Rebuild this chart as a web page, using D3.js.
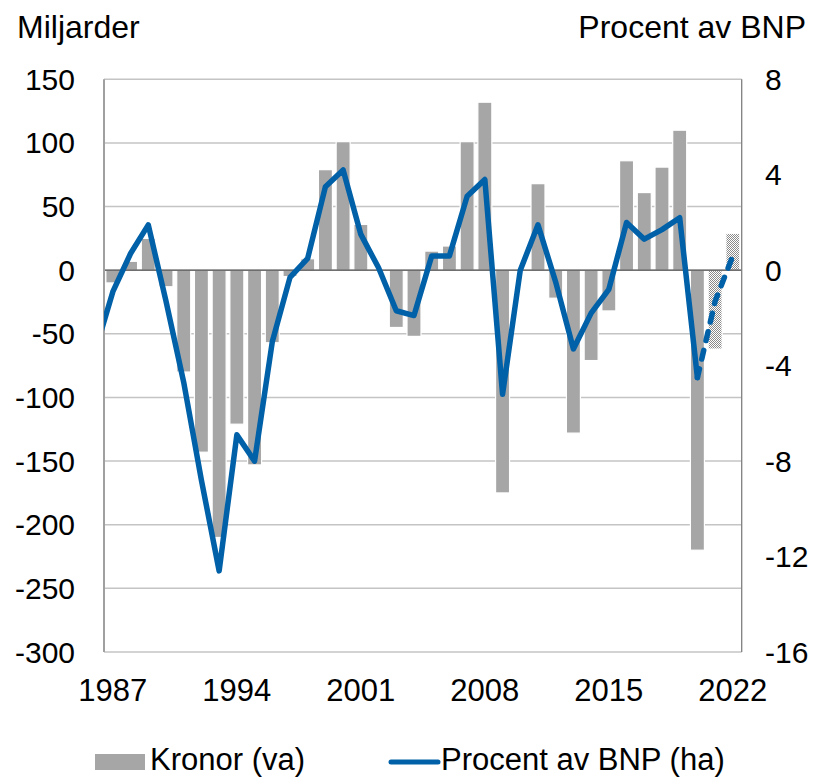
<!DOCTYPE html>
<html>
<head>
<meta charset="utf-8">
<script src="https://cdn.jsdelivr.net/npm/d3@7"></script>
<style>
  html, body { margin: 0; padding: 0; background: #fff; }
  svg { display: block; }
  text { font-family: "Liberation Sans", Arial, sans-serif; fill: #000; }
</style>
</head>
<body>
<svg id="chart" width="817" height="778"></svg>
<script>
// ---- Data ----
const years = d3.range(1987, 2023);
// Budget balance, billions SEK (left axis)
const kronor = [-10, 7, 25, -13, -80, -143, -210, -121, -153, -57,
                -5, 9, 79, 101, 36, -1, -45, -52, 15, 19,
                101, 132, -175, 0, 68, -22, -128, -71, -32, 86,
                61, 81, 110, -220, -62, 29];
// Years whose bars are forecasts (checkered)
const forecastYears = [2021, 2022];
// Percent of GDP (right axis); starts in 1986 (clipped at the left edge)
const lineYears = d3.range(1986, 2023);
const procent = [-3.4, -0.9, 0.7, 1.9, -1.3, -4.7, -8.8, -12.6, -6.9, -8.0, -3.0,
                 -0.3, 0.5, 3.5, 4.2, 1.5, 0.1, -1.7, -1.9, 0.6, 0.6,
                 3.1, 3.8, -5.2, 0.0, 1.9, -0.5, -3.3, -1.8, -0.8, 2.0,
                 1.3, 1.7, 2.2, -4.5, -1.3, 0.6];
const lastActualYear = 2020;
const leftTicks = [150, 100, 50, 0, -50, -100, -150, -200, -250, -300];
const rightTicks = [8, 4, 0, -4, -8, -12, -16];
const xTickYears = [1987, 1994, 2001, 2008, 2015, 2022];

// ---- Layout ----
const L = 104, R = 741.7, T = 79.3, B = 652;
const svg = d3.select("#chart");

const x = d3.scaleBand().domain(years).range([L, R]).padding(0);
const bw = x.bandwidth();
const xc = d3.scaleLinear().domain([years[0], years[years.length - 1]])
  .range([x(years[0]) + bw / 2, x(years[years.length - 1]) + bw / 2]);
const yL = d3.scaleLinear().domain([-300, 150]).range([B, T]);
const yR = d3.scaleLinear().domain([-16, 8]).range([B, T]);

const defs = svg.append("defs");
const pat = defs.append("pattern").attr("id", "checker")
  .attr("patternUnits", "userSpaceOnUse").attr("width", 2).attr("height", 2);
pat.append("rect").attr("width", 2).attr("height", 2).attr("fill", "#ffffff");
pat.append("rect").attr("width", 1).attr("height", 1).attr("fill", "#8a8a8a");
pat.append("rect").attr("x", 1).attr("y", 1).attr("width", 1).attr("height", 1).attr("fill", "#8a8a8a");
defs.append("clipPath").attr("id", "plotclip").append("rect")
  .attr("x", L).attr("y", T - 10).attr("width", R - L).attr("height", B - T + 20);

// Gridlines
svg.append("g").selectAll("line").data(leftTicks.filter(d => d !== 0)).join("line")
  .attr("x1", L).attr("x2", R)
  .attr("y1", d => yL(d)).attr("y2", d => yL(d))
  .attr("stroke", "#c4c4c4").attr("stroke-width", 1.5);

// Bars
const barW = bw * 0.79;
svg.append("g").selectAll("rect").data(years.map((y, i) => ({ y, v: kronor[i] }))).join("rect")
  .attr("x", d => x(d.y) + (bw - barW) / 2)
  .attr("width", barW)
  .attr("y", d => yL(Math.max(0, d.v)))
  .attr("height", d => Math.abs(yL(d.v) - yL(0)))
  .attr("fill", d => forecastYears.includes(d.y) ? "url(#checker)" : "#a6a6a6")
  .attr("stroke", "#ffffff").attr("stroke-width", 1.2);

// Zero line
svg.append("line").attr("x1", L).attr("x2", R)
  .attr("y1", yL(0)).attr("y2", yL(0))
  .attr("stroke", "#404040").attr("stroke-width", 1.3);

// Axis lines
svg.append("line").attr("x1", L).attr("x2", L).attr("y1", T).attr("y2", B)
  .attr("stroke", "#a0a0a0").attr("stroke-width", 2);
svg.append("line").attr("x1", R).attr("x2", R).attr("y1", T).attr("y2", B)
  .attr("stroke", "#7f7f7f").attr("stroke-width", 1.3);

// Line
const pts = lineYears.map((y, i) => ({ y, v: procent[i] }));
const lineGen = d3.line().x(d => xc(d.y)).y(d => yR(d.v));
const lg = svg.append("g").attr("clip-path", "url(#plotclip)");
lg.append("path").datum(pts.filter(d => d.y <= lastActualYear))
  .attr("d", lineGen).attr("fill", "none")
  .attr("stroke", "#0061a8").attr("stroke-width", 5.5)
  .attr("stroke-linejoin", "round").attr("stroke-linecap", "round");
lg.append("path").datum(pts.filter(d => d.y >= lastActualYear))
  .attr("d", lineGen).attr("fill", "none")
  .attr("stroke", "#0061a8").attr("stroke-width", 5.5)
  .attr("stroke-dasharray", "9,10")
  .attr("stroke-linejoin", "round").attr("stroke-linecap", "round");

// Left axis labels
const fs = 30;
svg.append("g").selectAll("text").data(leftTicks).join("text")
  .attr("x", 75).attr("y", d => yL(d)).attr("dy", "0.35em")
  .attr("text-anchor", "end").attr("font-size", fs).text(d => d);
// Right axis labels
svg.append("g").selectAll("text").data(rightTicks).join("text")
  .attr("x", 765).attr("y", d => yR(d)).attr("dy", "0.35em")
  .attr("text-anchor", "start").attr("font-size", fs).text(d => d);
// X labels
svg.append("g").selectAll("text").data(xTickYears).join("text")
  .attr("x", d => xc(d)).attr("y", 701)
  .attr("text-anchor", "middle").attr("font-size", 31).text(d => d);

// Titles
svg.append("text").attr("x", 17).attr("y", 38).attr("font-size", 32).text("Miljarder");
svg.append("text").attr("x", 806).attr("y", 38).attr("text-anchor", "end")
  .attr("font-size", 32).text("Procent av BNP");

// Legend
svg.append("rect").attr("x", 95).attr("y", 754).attr("width", 50).attr("height", 16).attr("fill", "#a6a6a6");
svg.append("text").attr("x", 150).attr("y", 770).attr("font-size", 31).text("Kronor (va)");
svg.append("line").attr("x1", 391).attr("x2", 438).attr("y1", 762).attr("y2", 762)
  .attr("stroke", "#0061a8").attr("stroke-width", 5).attr("stroke-linecap", "round");
svg.append("text").attr("x", 441).attr("y", 770).attr("font-size", 31).text("Procent av BNP (ha)");
</script>
</body>
</html>
